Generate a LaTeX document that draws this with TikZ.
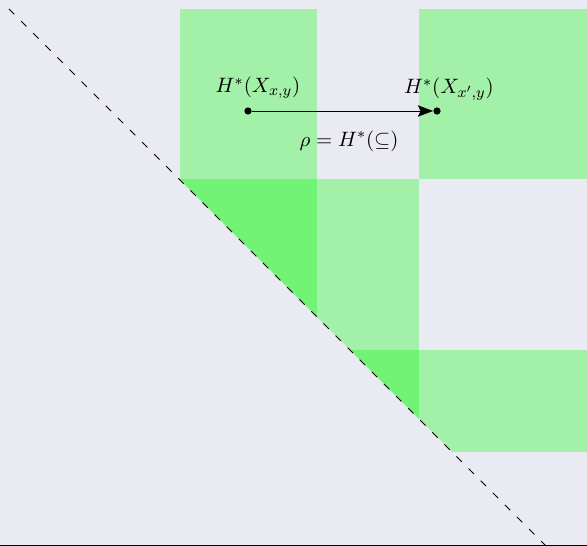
\documentclass[tikz,border=0pt,11pt]{standalone}
\usepackage{amsmath}
\usetikzlibrary{arrows.meta}
\definecolor{panel}{RGB}{234,234,242}
\begin{document}
\begin{tikzpicture}[x=0.0185cm, y=-0.0185cm, region/.style={fill=green, fill opacity=0.3}, diag/.style={thin, dash pattern=on 4pt off 5pt}, dot/.style={circle, fill, inner sep=0pt, minimum size=3.8pt}, map/.style={-{Stealth[length=8pt, width=6pt, inset=1.5pt]}, thin}]

\fill[panel] (0,0) rectangle (587,546); \useasboundingbox (0,0) rectangle (587,546);
\begin{scope}
\clip (0,0) -- (587,0) -- (587,587) -- cycle;
\fill[region] (180,9) rectangle (317,317); \fill[region] (180,179) rectangle (419,419);
\fill[region] (340,350) rectangle (587,452); \fill[region] (419,9) rectangle (587,179);
\end{scope}
\draw[diag] (9,9) -- (546,546); \draw (0,545.5) -- (587,545.5);
\node[dot] (src) at (248,111) {}; \node[dot] (tgt) at (437,111) {};
\node (srclab) at (258,88) {$H^*(X_{x,y})$}; \node (tgtlab) at (449,89) {$H^*(X_{x',y})$};
\draw[map] (src) -- (tgt); \node (rho) at (349,141) {$\rho = H^*(\subseteq)$};
\end{tikzpicture}
\end{document}
